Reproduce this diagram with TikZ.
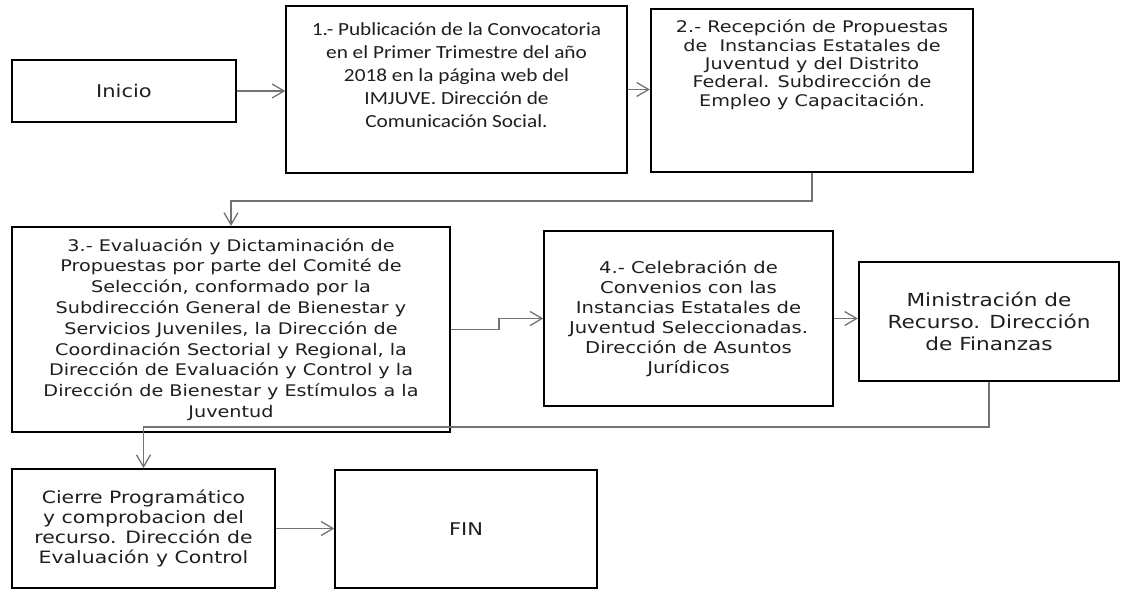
\documentclass[tikz,border=0pt]{standalone}
\usepackage{fontspec}
\newfontfamily\verdana[FakeStretch=1.2]{DejaVu Sans}
\newfontfamily\calibri[FakeStretch=1.15]{Carlito}
\usetikzlibrary{arrows.meta}

\begin{document}
\begin{tikzpicture}[x = 1pt, y = -1pt,
		caja/.style = {draw, fill = white, align = center, inner sep = 2pt, text = black!88},
		gruesa/.style = {caja, line width = 2.2pt},
		delgada/.style = {caja, line width = 1.3pt},
		flecha/.style = {draw = black!55, line width = 1.3pt, -{Straight Barb[length = 12pt, width = 14pt]}}]
			\useasboundingbox (0,0) rectangle (1121,589);
			
			\node[gruesa, minimum width = 224, minimum height = 62, font = \verdana\fontsize{17.5}{21}\selectfont] (ini) at (124,91) {Inicio};
			\node[delgada, minimum width = 341, minimum height = 167, text depth = 28pt, font = \calibri\fontsize{18.5}{23}\selectfont] (pub) at (456.5,89.5) {1.- Publicación de la Convocatoria\\ en el Primer Trimestre del año\\ 2018 en la página web del\\ IMJUVE. Dirección de\\ Comunicación Social.};
			\node[gruesa, minimum width = 322, minimum height = 163, text depth = 55pt, font = \verdana\fontsize{16}{18.3}\selectfont] (rec) at (812,90.5) {2.- Recepción de Propuestas\\ de \ Instancias Estatales de\\ Juventud y del Distrito\\ Federal. Subdirección de\\ Empleo y Capacitación.};
			
			\node[gruesa, minimum width = 438, minimum height = 205, font = \verdana\fontsize{16}{20.8}\selectfont] (eva) at (231,329.5) {3.- Evaluación y Dictaminación de\\ Propuestas por parte del Comité de\\ Selección, conformado por la\\ Subdirección General de Bienestar y\\ Servicios Juveniles, la Dirección de\\ Coordinación Sectorial y Regional, la\\ Dirección de Evaluación y Control y la\\ Dirección de Bienestar y Estímulos a la\\ Juventud};
			\node[delgada, minimum width = 289, minimum height = 175, font = \verdana\fontsize{16.3}{20}\selectfont] (cel) at (688.5,318.5) {4.- Celebración de\\ Convenios con las\\ Instancias Estatales de\\ Juventud Seleccionadas.\\ Dirección de Asuntos\\ Jurídicos};
			\node[gruesa, minimum width = 260, minimum height = 119, font = \verdana\fontsize{18}{21.7}\selectfont] (min) at (989,321.5) {Ministración de\\ Recurso. Dirección\\ de Finanzas};
			
			\node[caja, line width = 1.8pt, minimum width = 263, minimum height = 119, font = \verdana\fontsize{17}{20}\selectfont] (cie) at (143.5,528.5) {Cierre Programático\\ y comprobacion del\\ recurso. Dirección de\\ Evaluación y Control};
			\node[delgada, minimum width = 262, minimum height = 118, font = \verdana\fontsize{17.5}{21}\selectfont] (fin) at (466,529) {FIN};
			
			\draw[flecha] (ini.east) -- (ini.east -| pub.west);
			\draw[flecha] (pub.east) -- (pub.east -| rec.west);
			\draw[flecha] (rec.south) -- ++(0,28) -| (eva.north); % back to the left
			\draw[flecha] (eva.east) -- ++(48,0) |- (cel.west);
			\draw[flecha] (cel.east) -- (cel.east -| min.west);
			\draw[flecha] (min.south) -- ++(0,45) -| (cie.north); % crosses the bottom of eva
			\draw[flecha] (cie.east) -- (cie.east -| fin.west);
		\end{tikzpicture}
\end{document}
